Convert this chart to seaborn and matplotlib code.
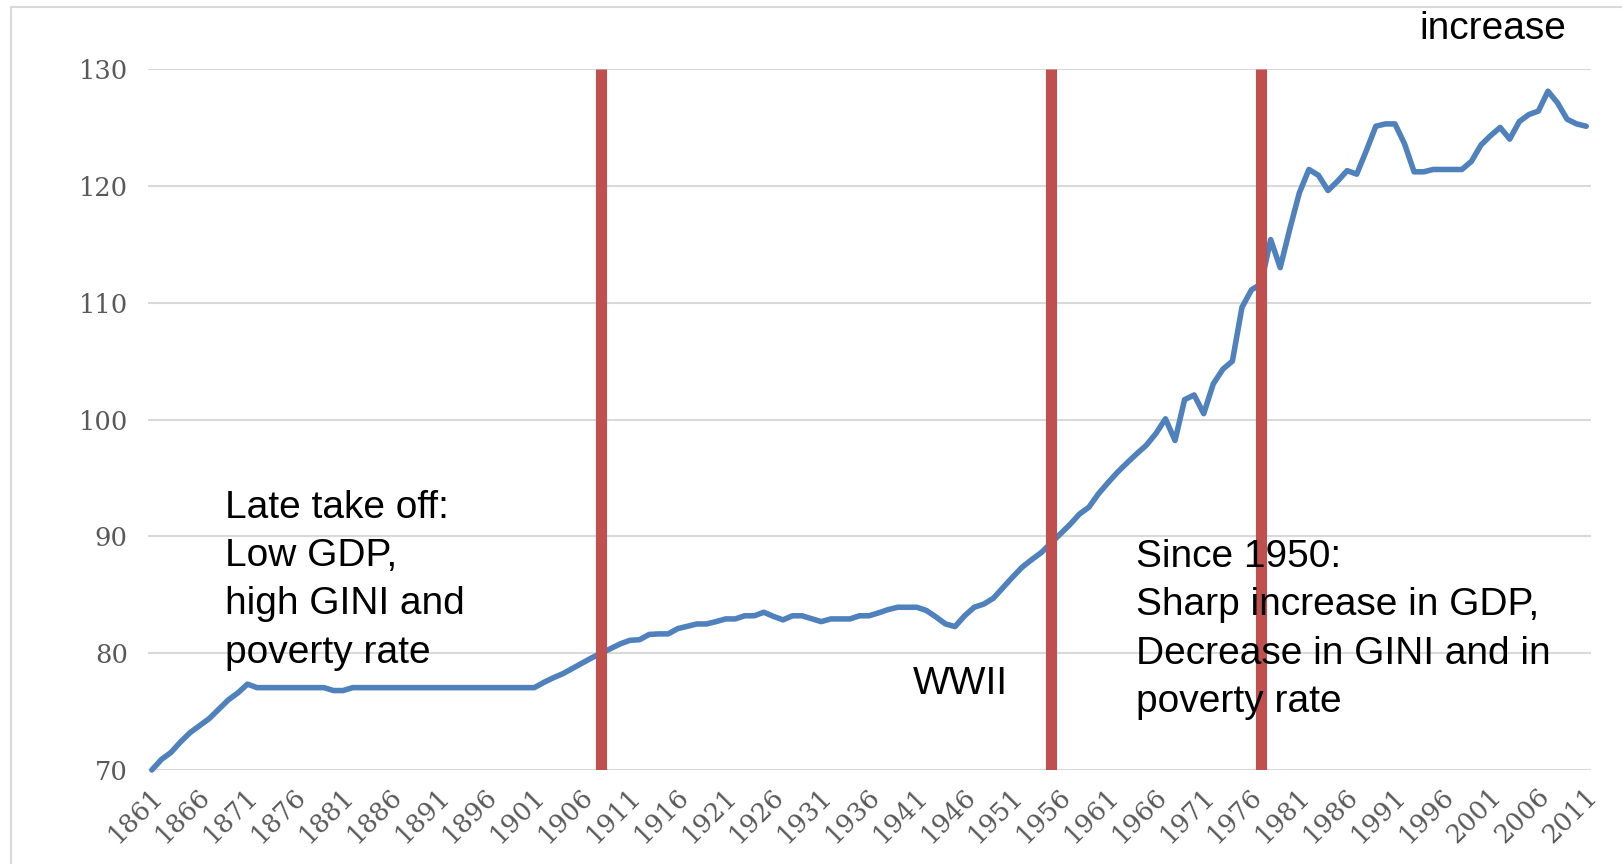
import matplotlib
matplotlib.use("Agg")
import matplotlib.pyplot as plt
import seaborn as sns
import pandas as pd
from matplotlib.lines import Line2D
from matplotlib.transforms import ScaledTranslation

# Index values by year, 1861-2011
years = list(range(1861, 2012))
values = [
    70.0, 70.9, 71.5, 72.4, 73.2, 73.8, 74.4, 75.2, 76.0, 76.6,            # 1861-1870
    77.35, 77.05, 77.05, 77.05, 77.05, 77.05, 77.05, 77.05, 77.05, 76.8,  # 1871-1880
    76.8, 77.05, 77.05, 77.05, 77.05, 77.05, 77.05, 77.05, 77.05, 77.05,  # 1881-1890
    77.05, 77.05, 77.05, 77.05, 77.05, 77.05, 77.05, 77.05, 77.05, 77.05,  # 1891-1900
    77.05, 77.5, 77.9, 78.25, 78.7, 79.15, 79.6, 80.0, 80.4, 80.8,        # 1901-1910
    81.1, 81.15, 81.6, 81.65, 81.65, 82.1, 82.3, 82.5, 82.5, 82.7,        # 1911-1920
    82.93, 82.93, 83.2, 83.2, 83.5, 83.15, 82.85, 83.2, 83.2, 82.95,      # 1921-1930
    82.7, 82.93, 82.93, 82.93, 83.2, 83.2, 83.45, 83.73, 83.93, 83.93,    # 1931-1940
    83.93, 83.65, 83.1, 82.5, 82.28, 83.2, 83.93, 84.2, 84.7, 85.6,       # 1941-1950
    86.5, 87.35, 88.0, 88.6, 89.4, 90.2, 91.0, 91.9, 92.5, 93.65,         # 1951-1960
    94.6, 95.5, 96.3, 97.07, 97.8, 98.8, 100.06, 98.2, 101.7, 102.1,      # 1961-1970
    100.5, 103.05, 104.3, 105.0, 109.6, 111.1, 111.6, 115.4, 113.0, 116.3,  # 1971-1980
    119.4, 121.4, 120.9, 119.6, 120.4, 121.3, 121.0, 123.0, 125.1, 125.3,   # 1981-1990
    125.3, 123.6, 121.2, 121.2, 121.4, 121.4, 121.4, 121.4, 122.1, 123.5,   # 1991-2000
    124.3, 125.0, 124.0, 125.5, 126.1, 126.4, 128.1, 127.1, 125.7, 125.3,   # 2001-2010
    125.1,                                                                  # 2011
]
tick_years = list(range(1861, 2012, 5))
tick_labels = [str(y) for y in tick_years]
y_ticks = [70, 80, 90, 100, 110, 120, 130]
period_breaks = [1908, 1955, 1977]

left_note = ["Late take off:", "Low GDP,", "high GINI and", "poverty rate"]
right_note = ["Since 1950:", "Sharp increase in GDP,", "Decrease in GINI and in", "poverty rate"]
war_note = "WWII"
top_note = "increase"

BLUE = "#4F81BD"
RED = "#C0504D"
GRID = "#D9D9D9"
TICK = "#595959"

sns.set_style("white")
plt.rcParams["font.family"] = ["Liberation Sans", "DejaVu Sans"]

W, H = 1622, 864
fig = plt.figure(figsize=(W / 100, H / 100), dpi=100)
ax = fig.add_axes([148 / W, 1 - 770 / H, (1591 - 148) / W, (770 - 69) / H])

df = pd.DataFrame({"year": years, "value": values})
sns.lineplot(data=df, x="year", y="value", ax=ax, color=BLUE, linewidth=4.0, zorder=2)
for ln in ax.lines:
    ln.set_clip_on(False)
    ln.set_solid_joinstyle("round")
    ln.set_solid_capstyle("round")

for yr in period_breaks:
    ax.axvline(yr, ymin=0, ymax=1, color=RED, linewidth=8, solid_capstyle="butt", zorder=3)

TICK_SIZE = 18.5
ax.set_xlim(1860.6, 2011.5)
ax.set_ylim(70, 130)
ax.tick_params(axis="both", length=0, labelsize=TICK_SIZE, labelcolor=TICK)
ax.tick_params(axis="y", pad=14.5)
ax.tick_params(axis="x", pad=16)
ax.set_yticks(y_ticks)
ax.set_yticklabels([str(v) for v in y_ticks], fontfamily="DejaVu Serif", fontsize=TICK_SIZE, color=TICK)
ax.set_xticks(tick_years)
ax.set_xticklabels(tick_labels, rotation=45, ha="right", va="center", rotation_mode="anchor",
                   fontfamily="DejaVu Serif", fontsize=TICK_SIZE, color=TICK)
ax.yaxis.grid(True, color=GRID, linewidth=1.5)
ax.xaxis.grid(False)
ax.set_axisbelow(True)
for s in ax.spines.values():
    s.set_visible(False)
ax.set_xlabel("")
ax.set_ylabel("")

# nudge the rotated year labels a little to the right
shift = ScaledTranslation(5 / 72, 0, fig.dpi_scale_trans)
for lab in ax.get_xticklabels():
    lab.set_transform(lab.get_transform() + shift)

# annotations, one line at a time
step = 4.13
note_kw = dict(fontsize=28, color="black", va="baseline", zorder=5)
for i, line in enumerate(left_note):
    ax.text(1868.6, 91.57 - i * step, line, ha="left", **note_kw)
for i, line in enumerate(right_note):
    ax.text(1963.9, 87.37 - i * step, line, ha="left", **note_kw)
ax.text(1940.6, 76.5, war_note, ha="left", **note_kw)
ax.text(2008.9, 132.6, top_note, ha="right", clip_on=False, **note_kw)

# outer frame
fig.add_artist(Line2D([11 / W, 1.0], [1 - 7 / H, 1 - 7 / H], color=GRID, linewidth=1.5,
                      transform=fig.transFigure))
fig.add_artist(Line2D([11 / W, 11 / W], [0.0, 1 - 7 / H], color=GRID, linewidth=1.5,
                      transform=fig.transFigure))

fig.savefig("out.png", dpi=100)
